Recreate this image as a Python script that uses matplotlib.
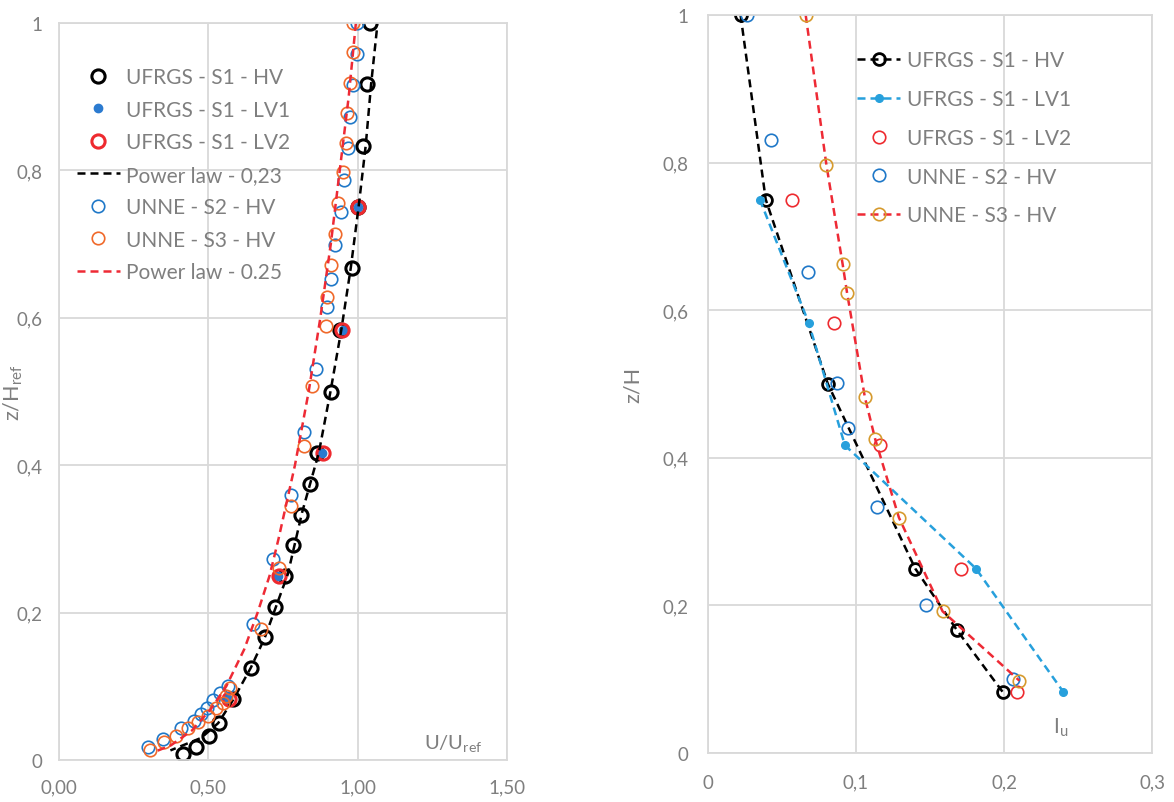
import matplotlib
matplotlib.use('Agg')
import matplotlib.pyplot as plt

plt.rcParams['font.family'] = ['Lato', 'DejaVu Sans']
plt.rcParams['mathtext.default'] = 'regular'

GRAY = '#7f7f7f'
GRID = '#d9d9d9'

# ---- left panel: U/Uref against z/Href ----
hv_z = [1.0, 0.917, 0.833, 0.75, 0.667, 0.583, 0.5, 0.417, 0.375, 0.333,
        0.292, 0.25, 0.208, 0.167, 0.125, 0.083, 0.05, 0.033, 0.017, 0.008]
hv_u = [1.04, 1.03, 1.017, 1.0, 0.98, 0.94, 0.912, 0.865, 0.84, 0.81,
        0.784, 0.758, 0.723, 0.689, 0.643, 0.584, 0.537, 0.502, 0.46, 0.414]

lv_z = [0.75, 0.583, 0.417, 0.25, 0.083]
lv1_u = [1.002, 0.952, 0.882, 0.733, 0.566]
lv2_u = [1.002, 0.949, 0.884, 0.737, 0.570]

s2_z = [1.0, 0.958, 0.916, 0.873, 0.83, 0.787, 0.743, 0.699, 0.653, 0.614, 0.53,
        0.445, 0.359, 0.273, 0.185, 0.100, 0.091, 0.082, 0.071, 0.063, 0.053,
        0.044, 0.028, 0.017]
s2_u = [0.997, 0.997, 0.985, 0.974, 0.969, 0.954, 0.943, 0.924, 0.912, 0.898, 0.862,
        0.82, 0.777, 0.717, 0.648, 0.566, 0.54, 0.516, 0.494, 0.476, 0.452,
        0.41, 0.347, 0.299]

s3_z = [1.0, 0.96, 0.919, 0.878, 0.837, 0.798, 0.756, 0.714, 0.671, 0.628, 0.589,
        0.508, 0.426, 0.345, 0.261, 0.178, 0.098, 0.087, 0.078, 0.07, 0.06,
        0.052, 0.043, 0.033, 0.024, 0.014]
s3_u = [0.985, 0.985, 0.974, 0.965, 0.96, 0.95, 0.934, 0.924, 0.912, 0.898, 0.893,
        0.848, 0.82, 0.777, 0.737, 0.678, 0.572, 0.56, 0.548, 0.524, 0.5,
        0.464, 0.431, 0.392, 0.352, 0.304]

pl23_z = [0.99, 0.917, 0.834, 0.75, 0.668, 0.583, 0.5, 0.417, 0.336, 0.252,
          0.165, 0.125, 0.083, 0.05, 0.03, 0.013]
pl23_u = [1.064, 1.045, 1.027, 1.003, 0.977, 0.945, 0.909, 0.87, 0.814, 0.766,
          0.688, 0.642, 0.585, 0.533, 0.476, 0.373]

pl25_z = [1.0, 0.9, 0.8, 0.7, 0.6, 0.5, 0.4, 0.3, 0.25, 0.2, 0.15, 0.1, 0.07,
          0.04, 0.02, 0.011]
pl25_u = [0.994, 0.97, 0.94, 0.91, 0.875, 0.836, 0.79, 0.735, 0.705, 0.665,
          0.62, 0.56, 0.51, 0.445, 0.375, 0.32]

left_xticks = [0.0, 0.5, 1.0, 1.5]
left_xlabels = ['0,00', '0,50', '1,00', '1,50']
yticks = [0, 0.2, 0.4, 0.6, 0.8, 1.0]
ylabels = ['0', '0,2', '0,4', '0,6', '0,8', '1']

# ---- right panel: turbulence intensity Iu against z/H ----
r_hv_z = [1.0, 0.75, 0.5, 0.25, 0.167, 0.083]
r_hv_i = [0.022, 0.039, 0.081, 0.14, 0.168, 0.199]

r_lv_z = [0.75, 0.583, 0.417, 0.25, 0.083]
r_lv1_i = [0.035, 0.068, 0.0925, 0.181, 0.24]
r_lv2_i = [0.057, 0.085, 0.116, 0.171, 0.209]

r_s2_z = [1.0, 0.831, 0.652, 0.502, 0.441, 0.333, 0.2, 0.1]
r_s2_i = [0.0266, 0.0423, 0.0678, 0.087, 0.0949, 0.114, 0.1474, 0.2062]

r_s3_z = [1.0, 0.797, 0.662, 0.623, 0.482, 0.425, 0.319, 0.192, 0.098]
r_s3_i = [0.066, 0.080, 0.091, 0.094, 0.106, 0.113, 0.129, 0.1585, 0.2104]

right_xticks = [0.0, 0.1, 0.2, 0.3]
right_xlabels = ['0', '0,1', '0,2', '0,3']


def style_axes(ax, xticks, xlabels, xpad, ypad):
    ax.set_yticks(yticks)
    ax.set_yticklabels(ylabels)
    ax.set_xticks(xticks)
    ax.set_xticklabels(xlabels)
    ax.set_xlim(xticks[0], xticks[-1])
    ax.set_ylim(0, 1)
    ax.grid(True, color=GRID, lw=1.3)
    ax.set_axisbelow(True)
    for s in ax.spines.values():
        s.set_color(GRID)
        s.set_linewidth(1.3)
    ax.tick_params(length=0, labelsize=13.5, labelcolor=GRAY)
    ax.tick_params(axis='x', pad=xpad)
    ax.tick_params(axis='y', pad=ypad)


def grey_legend(ax, anchor, spacing):
    leg = ax.legend(loc='upper left', bbox_to_anchor=anchor, frameon=False,
                    fontsize=15, handlelength=2.07, handletextpad=0.3,
                    labelspacing=spacing, borderpad=0, borderaxespad=0)
    for t in leg.get_texts():
        t.set_color(GRAY)
    return leg


fig = plt.figure(figsize=(11.74, 8.03), dpi=100)
ax1 = fig.add_axes([59 / 1174, 42 / 803, 448 / 1174, 737 / 803])
ax2 = fig.add_axes([708 / 1174, 49 / 803, 444 / 1174, 738 / 803])

dash = (0, (3.2, 2.0))

# left panel
ax1.plot(hv_u, hv_z, ls='none', marker='o', ms=9.5, mfc='none', mec='black',
         mew=2.2, label='UFRGS - S1 - HV')
ax1.plot(lv1_u, lv_z, ls='none', marker='o', ms=6, color='#2b7bd0',
         label='UFRGS - S1 - LV1')
ax1.plot(lv2_u, lv_z, ls='none', marker='o', ms=9.5, mfc='none', mec='#ee2a2f',
         mew=2.2, label='UFRGS - S1 - LV2')
ax1.plot(pl23_u, pl23_z, ls=dash, lw=1.8, color='black', label='Power law - 0,23')
ax1.plot(s2_u, s2_z, ls='none', marker='o', ms=9, mfc='none', mec='#1f78c8',
         mew=1.2, label='UNNE - S2 - HV')
ax1.plot(s3_u, s3_z, ls='none', marker='o', ms=9, mfc='none', mec='#f0692a',
         mew=1.2, label='UNNE - S3 - HV')
ax1.plot(pl25_u, pl25_z, ls=dash, lw=1.8, color='#ee2a35', label='Power law - 0.25')

style_axes(ax1, left_xticks, left_xlabels, 13, 12)
ax1.set_ylabel('z/H$_{ref}$', fontsize=15.5, color=GRAY)
ax1.yaxis.set_label_coords(-0.076, 0.5)
ax1.text(0.879, 0.01, 'U/U$_{ref}$', transform=ax1.transAxes, fontsize=14.5,
         color=GRAY, ha='center', va='bottom')
grey_legend(ax1, (0.04, 0.94), 0.6)

# right panel
ax2.plot(r_hv_i, r_hv_z, ls=dash, lw=1.8, color='black', marker='o', ms=8.5,
         mfc='none', mew=2.0, label='UFRGS - S1 - HV')
ax2.plot(r_lv1_i, r_lv_z, ls=dash, lw=1.8, color='#27a0dc', marker='o', ms=5.5,
         label='UFRGS - S1 - LV1')
ax2.plot(r_lv2_i, r_lv_z, ls='none', marker='o', ms=9, mfc='none', mec='#ee2a2f',
         mew=1.2, label='UFRGS - S1 - LV2')
ax2.plot(r_s2_i, r_s2_z, ls='none', marker='o', ms=9, mfc='none', mec='#1f78c8',
         mew=1.2, label='UNNE - S2 - HV')
ax2.plot(r_s3_i, r_s3_z, ls=dash, lw=1.8, color='#ee2a35', marker='o', ms=9,
         mfc='none', mec='#d69a2d', mew=1.2, label='UNNE - S3 - HV')

style_axes(ax2, right_xticks, right_xlabels, 15, 14)
ax2.set_ylabel('z/H', fontsize=15.5, color=GRAY)
ax2.yaxis.set_label_coords(-0.146, 0.5)
ax2.text(0.795, 0.02, 'I$_u$', transform=ax2.transAxes, fontsize=15,
         color=GRAY, ha='center', va='bottom')
grey_legend(ax2, (0.336, 0.952), 0.9)

fig.savefig('out.png', dpi=100, facecolor='white')
